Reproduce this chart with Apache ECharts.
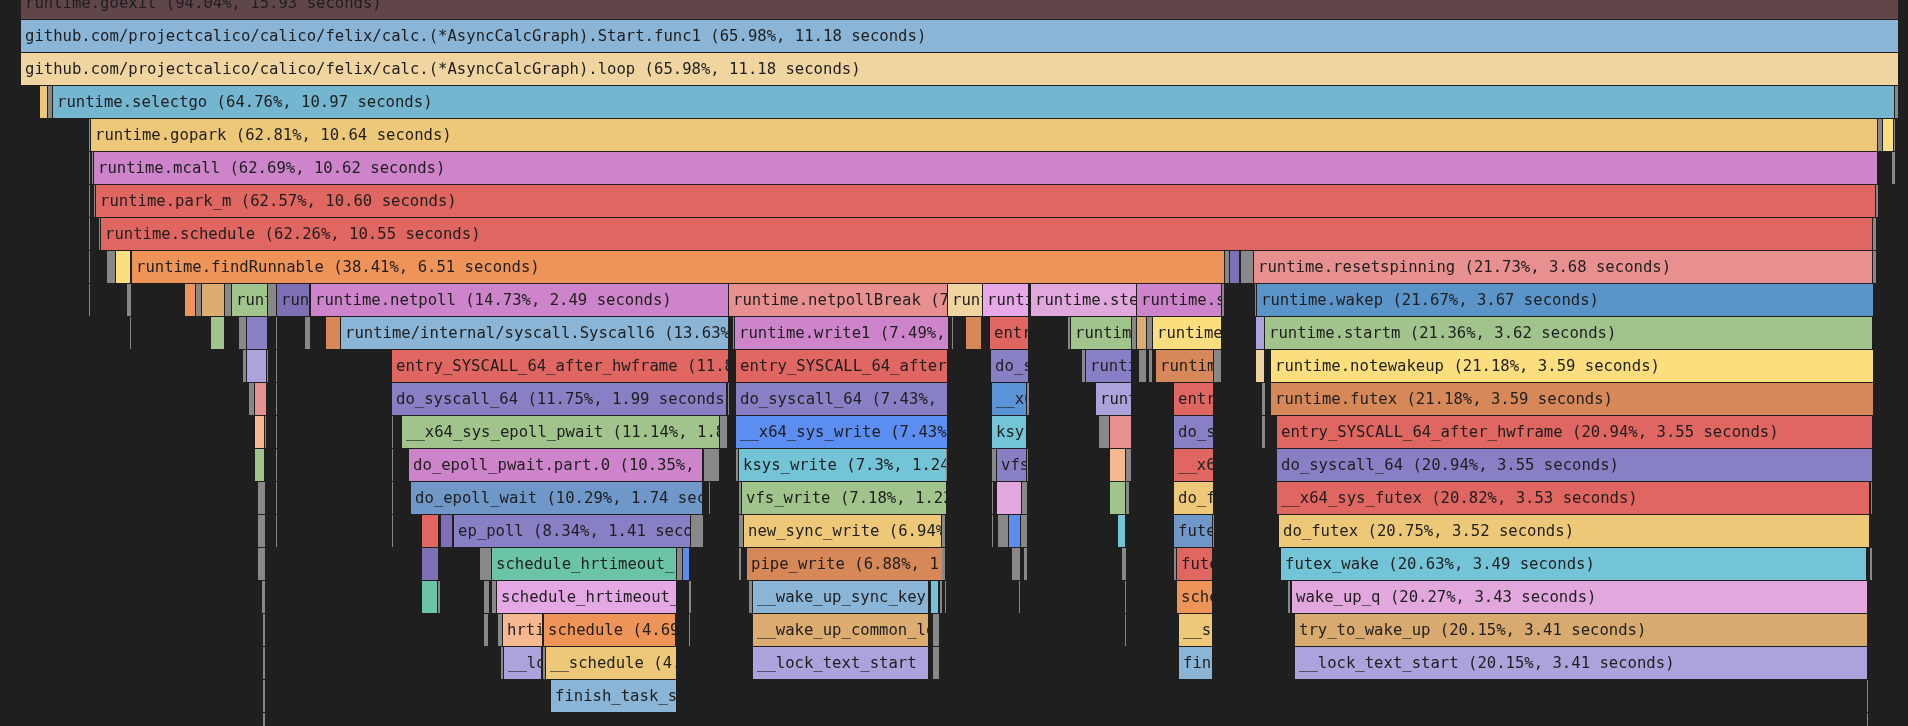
<!DOCTYPE html>
<html>
<head>
<meta charset="utf-8">
<title>flame graph</title>
<script src="https://cdn.jsdelivr.net/npm/echarts@6/dist/echarts.min.js"></script>
<style>
  html, body { margin: 0; padding: 0; background: #1f1f1f; }
  #chart { width: 1908px; height: 726px; }
</style>
</head>
<body>
<div id="chart"></div>
<script>
// one array per stack depth: [start (s), duration (s), function, percent of total]
// '' = tiny merged frames, drawn grey without a label
const F1 = 'github.com/projectcalico/calico/felix/calc.(*AsyncCalcGraph).Start.func1'
const LOOP = 'github.com/projectcalico/calico/felix/calc.(*AsyncCalcGraph).loop'
const ENTRY = 'entry_SYSCALL_64_after_hwframe'

const depth0 = [[0, 15.93, 'runtime.goexit', 94.04]]
const depth1 = [[0, 11.18, F1, 65.98]]
const depth2 = [[0, 11.18, LOOP, 65.98]]
const depth3 = [
  [0.113, 0.048, 'runtime.selectnbrecv', 0.28], [0.161, 0.028, '', 0],
  [0.189, 10.97, 'runtime.selectgo', 64.76], [11.159, 0.021, '', 0]
]
const depth4 = [
  [0.403, 0.012, '', 0], [0.415, 10.64, 'runtime.gopark', 62.81],
  [11.057, 0.026, '', 0], [11.083, 0.065, 'runtime.sellock', 0.38], [11.149, 0.010, '', 0]
]
const depth5 = [
  [0.403, 0.012, '', 0], [0.421, 0.012, '', 0],
  [0.435, 10.62, 'runtime.mcall', 62.69], [11.141, 0.024, '', 0]
]
const depth6 = [
  [0.403, 0.012, '', 0], [0.435, 0.010, '', 0],
  [0.446, 10.60, 'runtime.park_m', 62.57], [11.046, 0.014, '', 0]
]
const depth7 = [
  [0.403, 0.012, '', 0], [0.462, 0.011, '', 0],
  [0.474, 10.55, 'runtime.schedule', 62.26], [11.026, 0.026, '', 0]
]
const depth8 = [
  [0.403, 0.012, '', 0], [0.514, 0.050, '', 0], [0.565, 0.089, 'runtime.releasep', 0.53],
  [0.659, 6.51, 'runtime.findRunnable', 38.41], [7.170, 0.026, '', 0],
  [7.196, 0.060, 'runtime.execute', 0.35], [7.262, 0.080, '', 0],
  [7.343, 3.68, 'runtime.resetspinning', 21.73], [11.027, 0.024, '', 0]
]
const depth9 = [
  [0.403, 0.012, '', 0], [0.629, 0.030, '', 0], [0.978, 0.062, 'runtime.runqget', 0.37],
  [1.040, 0.039, '', 0], [1.079, 0.137, 'runtime.globrunqget', 0.81], [1.216, 0.038, '', 0],
  [1.254, 0.218, 'runtime.checkTimers', 1.29], [1.472, 0.050, '', 0],
  [1.522, 0.198, 'runtime.lock2', 1.17], [1.726, 2.49, 'runtime.netpoll', 14.73],
  [4.216, 1.30, 'runtime.netpollBreak', 7.67], [5.518, 0.208, 'runtime.nanotime1', 1.23],
  [5.726, 0.274, 'runtime.read', 1.62], [6.010, 0.631, 'runtime.stealWork', 3.72],
  [6.641, 0.506, 'runtime.stopm', 2.99], [7.147, 0.018, '', 0],
  [7.345, 0.012, '', 0], [7.359, 3.67, 'runtime.wakep', 21.67]
]
const depth10 = [
  [0.649, 0.010, '', 0], [1.133, 0.080, 'runtime.runqput', 0.47], [1.299, 0.044, '', 0],
  [1.343, 0.129, 'runtime.runtimer', 0.76], [1.518, 0.008, '', 0], [1.692, 0.032, '', 0],
  [1.815, 0.091, 'runtime.netpollready', 0.54],
  [1.907, 2.31, 'runtime/internal/syscall.Syscall6', 13.63], [4.238, 0.014, '', 0],
  [4.252, 1.27, 'runtime.write1', 7.49], [5.542, 0.012, '', 0],
  [5.623, 0.095, '__vdso_clock_gettime', 0.56], [5.768, 0.232, ENTRY, 1.37],
  [6.232, 0.018, '', 0], [6.250, 0.361, 'runtime.runqsteal', 2.13], [6.611, 0.033, '', 0],
  [6.645, 0.056, 'runtime.pidleput', 0.33], [6.701, 0.037, '', 0],
  [6.738, 0.409, 'runtime.notesleep', 2.41], [7.355, 0.050, 'runtime.pidleget', 0.30],
  [7.405, 3.62, 'runtime.startm', 21.36]
]
const depth11 = [
  [1.323, 0.020, '', 0], [1.343, 0.119, 'runtime.dodeltimer0', 0.70], [1.462, 0.012, '', 0],
  [1.518, 0.008, '', 0], [2.210, 2.006, ENTRY, 11.84], [4.258, 1.26, ENTRY, 7.45],
  [5.772, 0.228, 'do_syscall_64', 1.35], [6.315, 0.024, '', 0],
  [6.339, 0.272, 'runtime.runqgrab', 1.61], [6.655, 0.049, '', 0], [6.714, 0.024, '', 0],
  [6.754, 0.351, 'runtime.futex', 2.07], [7.105, 0.042, '', 0],
  [7.355, 0.050, 'runtime.mget', 0.30], [7.439, 3.59, 'runtime.notewakeup', 21.18]
]
const depth12 = [
  [1.359, 0.034, '', 0], [1.393, 0.070, 'runtime.siftdownTimer', 0.41], [1.518, 0.008, '', 0],
  [2.210, 1.99, 'do_syscall_64', 11.75], [4.206, 0.016, '', 0],
  [4.258, 1.26, 'do_syscall_64', 7.43], [5.778, 0.212, '__x64_sys_read', 1.25],
  [5.990, 0.014, '', 0], [6.397, 0.214, 'runtime.usleep', 1.26],
  [6.863, 0.242, ENTRY, 1.43], [7.387, 0.022, '', 0], [7.439, 3.59, 'runtime.futex', 21.18]
]
const depth13 = [
  [1.393, 0.060, 'runtime.nanotime', 0.35], [1.452, 0.010, '', 0], [1.518, 0.008, '', 0],
  [2.210, 0.010, '', 0], [2.270, 1.89, '__x64_sys_epoll_pwait', 11.14], [4.160, 0.050, '', 0],
  [4.258, 1.26, '__x64_sys_write', 7.43], [5.778, 0.212, 'ksys_read', 1.25],
  [6.417, 0.064, '', 0], [6.481, 0.131, 'runtime.osyield', 0.77],
  [6.863, 0.242, 'do_syscall_64', 1.43], [7.387, 0.022, '', 0], [7.478, 3.55, ENTRY, 20.94]
]
const depth14 = [
  [1.393, 0.060, 'runtime.walltime', 0.35], [1.518, 0.008, '', 0], [2.210, 0.010, '', 0],
  [2.311, 1.75, 'do_epoll_pwait.part.0', 10.35], [4.064, 0.095, '', 0], [4.258, 0.014, '', 0],
  [4.272, 1.24, 'ksys_write', 7.3], [5.508, 0.010, '', 0], [5.778, 0.030, '', 0],
  [5.808, 0.182, 'vfs_read', 1.07], [5.990, 0.010, '', 0],
  [6.481, 0.099, '__x64_sys_sched_yield', 0.58], [6.580, 0.032, '', 0],
  [6.863, 0.242, '__x64_sys_futex', 1.43], [7.478, 3.55, 'do_syscall_64', 20.94]
]
const depth15 = [
  [1.412, 0.044, '', 0], [1.518, 0.008, '', 0], [2.206, 0.014, '', 0],
  [2.321, 1.74, 'do_epoll_wait', 10.29], [4.097, 0.010, '', 0], [4.272, 0.020, '', 0],
  [4.292, 1.22, 'vfs_write', 7.18], [5.778, 0.014, '', 0], [5.808, 0.152, 'eventfd_read', 0.90],
  [5.960, 0.034, '', 0], [6.480, 0.099, 'do_sched_yield', 0.58], [6.579, 0.026, '', 0],
  [6.863, 0.242, 'do_futex', 1.43], [7.478, 3.53, '__x64_sys_futex', 20.82], [11.012, 0.016, '', 0]
]
const depth16 = [
  [1.412, 0.044, '', 0], [1.518, 0.008, '', 0], [2.206, 0.014, '', 0],
  [2.385, 0.105, 'fput', 0.62], [2.498, 0.075, '__fdget', 0.44],
  [2.577, 1.41, 'ep_poll', 8.34], [3.990, 0.074, '', 0], [4.272, 0.030, '', 0],
  [4.303, 1.18, 'new_sync_write', 6.94], [5.482, 0.026, '', 0], [5.778, 0.010, '', 0],
  [5.817, 0.064, '', 0], [5.881, 0.070, '_raw_spin_lock_irq', 0.41], [5.951, 0.043, '', 0],
  [6.530, 0.050, 'yield_task_fair', 0.30], [6.863, 0.234, 'futex_wait', 1.38],
  [7.097, 0.014, '', 0], [7.490, 3.52, 'do_futex', 20.75]
]
const depth17 = [
  [1.412, 0.044, '', 0], [2.385, 0.105, 'ep_done_scan', 0.62], [2.734, 0.070, '', 0],
  [2.804, 1.10, 'schedule_hrtimeout_range', 6.49], [3.905, 0.036, '', 0],
  [3.940, 0.044, '_raw_spin_lock_irq', 0.26], [4.272, 0.020, '', 0],
  [4.321, 1.166, 'pipe_write', 6.88], [5.482, 0.026, '', 0], [5.901, 0.050, '', 0],
  [5.970, 0.024, '', 0], [6.552, 0.030, '', 0], [6.863, 0.016, '', 0],
  [6.879, 0.216, 'futex_wait_queue', 1.28], [7.502, 3.49, 'futex_wake', 20.63],
  [11.005, 0.020, '', 0]
]
const depth18 = [
  [1.433, 0.024, '', 0], [2.385, 0.099, 'ep_item_poll', 0.58], [2.484, 0.014, '', 0],
  [2.754, 0.040, '', 0], [2.804, 0.030, '', 0],
  [2.833, 1.07, 'schedule_hrtimeout_range_clock', 6.32], [3.974, 0.020, '', 0],
  [4.332, 0.024, '', 0], [4.355, 1.05, '__wake_up_sync_key', 6.2],
  [5.417, 0.046, 'ep_poll_callback', 0.27], [5.472, 0.014, '', 0], [5.502, 0.010, '', 0],
  [5.940, 0.012, '', 0], [6.571, 0.010, '', 0], [6.879, 0.216, 'schedule', 1.28],
  [7.543, 0.020, '', 0], [7.564, 3.43, 'wake_up_q', 20.27]
]
const depth19 = [
  [1.442, 0.014, '', 0], [2.754, 0.033, '', 0], [2.837, 0.030, '', 0],
  [2.867, 0.238, 'hrtimer_start_range_ns', 1.4], [3.111, 0.79, 'schedule', 4.69],
  [3.978, 0.012, '', 0], [4.355, 1.05, '__wake_up_common_lock', 6.2], [5.429, 0.040, '', 0],
  [6.571, 0.010, '', 0], [6.893, 0.202, '__schedule', 1.19], [7.583, 3.41, 'try_to_wake_up', 20.15]
]
const depth20 = [
  [1.442, 0.014, '', 0], [2.857, 0.016, '', 0], [2.873, 0.228, '__lock_text_start', 1.35],
  [3.107, 0.018, '', 0], [3.125, 0.78, '__schedule', 4.6],
  [4.355, 1.05, '__lock_text_start', 6.2], [5.429, 0.040, '', 0],
  [6.893, 0.202, 'finish_task_switch.isra.0', 1.19], [7.583, 3.41, '__lock_text_start', 20.15]
]
const depth21 = [
  [1.442, 0.014, '', 0], [3.155, 0.75, 'finish_task_switch.isra.0', 4.43], [10.988, 0.008, '', 0]
]
const depth22 = [[1.442, 0.014, '', 0], [10.988, 0.008, '', 0]]

const depths = [depth0, depth1, depth2, depth3, depth4, depth5, depth6, depth7, depth8,
  depth9, depth10, depth11, depth12, depth13, depth14, depth15, depth16, depth17,
  depth18, depth19, depth20, depth21, depth22]

// colour per function name
const colorOf = {
  'runtime.goexit': '#614649',
  [F1]: '#8ab5d6',
  [LOOP]: '#f0d5a1',
  'runtime.selectgo': '#74b5d0',
  'runtime.selectnbrecv': '#edc878',
  'runtime.gopark': '#edc878',
  'runtime.sellock': '#fbde7e',
  'runtime.mcall': '#ce84ca',
  'runtime.park_m': '#df6661',
  'runtime.schedule': '#df6661',
  'runtime.releasep': '#fbde7e',
  'runtime.findRunnable': '#ef9458',
  'runtime.execute': '#7f6fb4',
  'runtime.resetspinning': '#e89090',
  'runtime.runqget': '#ef9458',
  'runtime.globrunqget': '#dcac70',
  'runtime.checkTimers': '#a0c48c',
  'runtime.lock2': '#7f6fb4',
  'runtime.netpoll': '#ce84ca',
  'runtime.netpollBreak': '#e89090',
  'runtime.nanotime1': '#f0d5a1',
  'runtime.read': '#e6a8e6',
  'runtime.stealWork': '#e0a8dc',
  'runtime.stopm': '#ce84ca',
  'runtime.wakep': '#5b94c8',
  'runtime.runqput': '#a0c48c',
  'runtime.runtimer': '#8880c4',
  'runtime.netpollready': '#d68858',
  'runtime/internal/syscall.Syscall6': '#8ab5d6',
  'runtime.write1': '#ce84ca',
  '__vdso_clock_gettime': '#d68858',
  [ENTRY]: '#df6661',
  'runtime.runqsteal': '#a0c48c',
  'runtime.pidleput': '#dcac70',
  'runtime.notesleep': '#fbde7e',
  'runtime.pidleget': '#aea2dc',
  'runtime.startm': '#a0c48c',
  'runtime.dodeltimer0': '#aea2dc',
  'do_syscall_64': '#8880c4',
  'runtime.runqgrab': '#8880c4',
  'runtime.futex': '#d68858',
  'runtime.mget': '#f0d29c',
  'runtime.notewakeup': '#fbde7e',
  'runtime.siftdownTimer': '#e89090',
  '__x64_sys_read': '#5b94d6',
  'runtime.usleep': '#aea2dc',
  'runtime.nanotime': '#f5b890',
  '__x64_sys_epoll_pwait': '#a0c48c',
  '__x64_sys_write': '#5b8ef0',
  'ksys_read': '#74c4d8',
  'runtime.osyield': '#e89090',
  'runtime.walltime': '#a0c48c',
  'do_epoll_pwait.part.0': '#ce84ca',
  'ksys_write': '#74c4d8',
  'vfs_read': '#8880c4',
  '__x64_sys_sched_yield': '#f5b890',
  '__x64_sys_futex': '#df6661',
  'do_epoll_wait': '#6f98c8',
  'vfs_write': '#a0c48c',
  'eventfd_read': '#e2a8de',
  'do_sched_yield': '#a0c48c',
  'do_futex': '#edc878',
  'fput': '#df6661',
  '__fdget': '#7f6fb4',
  'ep_poll': '#8880c4',
  'new_sync_write': '#edc878',
  '_raw_spin_lock_irq': '#5b8ef0',
  'yield_task_fair': '#74c4d8',
  'futex_wait': '#6f98c8',
  'ep_done_scan': '#7f6fb4',
  'schedule_hrtimeout_range': '#6cc4a8',
  'pipe_write': '#d68858',
  'futex_wait_queue': '#df6661',
  'futex_wake': '#74c4d8',
  'ep_item_poll': '#6cc4a8',
  'schedule_hrtimeout_range_clock': '#e4a8e4',
  '__wake_up_sync_key': '#8ab5d6',
  'ep_poll_callback': '#74c4d8',
  'schedule': '#ef9458',
  'wake_up_q': '#e2a8de',
  'hrtimer_start_range_ns': '#f5b890',
  '__wake_up_common_lock': '#dcac70',
  '__schedule': '#edc878',
  'try_to_wake_up': '#d8aa70',
  '__lock_text_start': '#aea2dc',
  'finish_task_switch.isra.0': '#8ab5d6'
}

const frames = []
depths.forEach((row, d) => {
  row.forEach(f => frames.push({ start: f[0], secs: f[1], name: f[2], pct: f[3], depth: d }))
})

const chart = echarts.init(document.getElementById('chart'))

const renderFrame = (params, api) => {
  const f = frames[params.dataIndex]
  const cs = params.coordSys
  const p0 = api.coord([api.value(0), api.value(1)])
  const p1 = api.coord([api.value(0) + api.value(2), api.value(1) + 1])
  const x0 = Math.max(Math.round(p0[0]), cs.x)
  const x1 = Math.min(Math.round(p1[0]), cs.x + cs.width)
  const y0 = Math.round(p0[1])
  const y1 = Math.round(p1[1])
  const w = Math.max(x1 - x0 - 1, 1)
  const h = y1 - y0 - 1
  const fill = f.name ? (colorOf[f.name] || '#888888') : '#888888'

  const children = [{
    type: 'rect',
    shape: { x: x0, y: y0, width: w, height: h },
    style: { fill }
  }]
  if (f.name && w >= 28) {
    children.push({
      type: 'text',
      x: x0 + 4,
      y: y0 + h / 2 + 1,
      style: {
        text: `${f.name} (${f.pct}%, ${f.secs.toFixed(2)} seconds)`,
        fill: '#1e1e1e',
        font: '15.6px "DejaVu Sans Mono", monospace',
        verticalAlign: 'middle',
        align: 'left'
      }
    })
  }
  return {
    type: 'group',
    clipPath: { type: 'rect', shape: { x: x0, y: y0, width: w, height: h } },
    children
  }
}

chart.setOption({
  backgroundColor: '#1f1f1f',
  animation: false,
  grid: { left: 21, right: 9, top: 0, bottom: 0 },
  xAxis: { type: 'value', min: 0, max: 11.18, show: false },
  yAxis: { type: 'value', inverse: true, min: 0.394, max: 22.394, show: false },
  series: [{
    type: 'custom',
    silent: true,
    renderItem: renderFrame,
    encode: { x: 0, y: 1 },
    data: frames.map(f => [f.start, f.depth, f.secs])
  }]
})
</script>
</body>
</html>
